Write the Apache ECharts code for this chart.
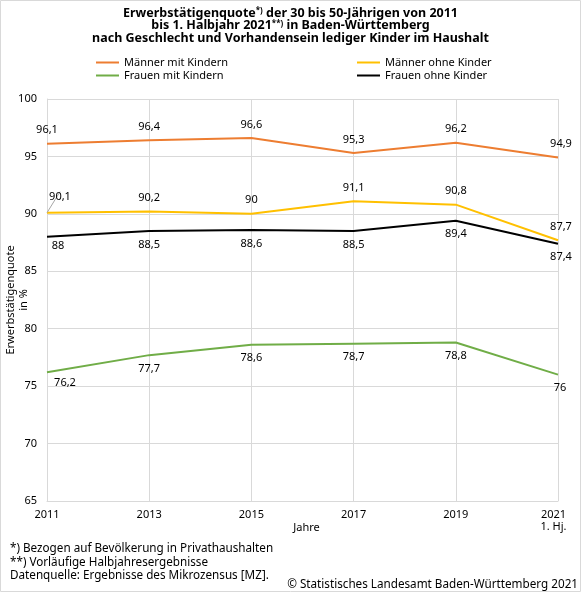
<!DOCTYPE html>
<html><head><meta charset="utf-8">
<script src="https://cdn.jsdelivr.net/npm/echarts@6/dist/echarts.min.js"></script>
<style>html,body{margin:0;padding:0;background:#fff}#c{width:581px;height:592px}</style>
</head><body><div id="c"></div>
<script>
var categories = ['2011', '2013', '2015', '2017', '2019', '2021\n1. Hj.'];
var maennerMitKindern = [96.1, 96.4, 96.6, 95.3, 96.2, 94.9];
var maennerOhneKinder = [90.1, 90.2, 90, 91.1, 90.8, 87.7];
var frauenMitKindern = [76.2, 77.7, 78.6, 78.7, 78.8, 76];
var frauenOhneKinder = [88, 88.5, 88.6, 88.5, 89.4, 87.4];
var yTicks = {min: 65, max: 100, interval: 5};

var FONT = 'Noto Sans';
var chart = echarts.init(document.getElementById('c'), null, {renderer: 'canvas'});
function fmt(p) { return String(p.value).replace('.', ','); }
function mkSeries(name, data, color, pos, firstOff, lastOff, leader) {
  var items = data.map(function (v, i) {
    if (i === 0 && leader) return {value: v, labelLine: {show: true, lineStyle: {color: '#a6a6a6', width: 1}}};
    return v;
  });
  return {
    name: name, type: 'line', data: items, symbol: 'circle', symbolSize: 0, showSymbol: true,
    lineStyle: {color: color, width: 2}, itemStyle: {color: color},
    label: {show: true, position: pos, distance: 8, formatter: fmt,
      fontFamily: FONT, fontSize: 11, color: '#000'},
    labelLine: {show: false},
    labelLayout: function (p) {
      if (p.dataIndex === 0) return {dx: firstOff[0], dy: firstOff[1]};
      if (p.dataIndex === data.length - 1) return {dx: lastOff[0], dy: lastOff[1]};
      return {};
    },
    emphasis: {disabled: true}, animation: false
  };
}
function leg(name, color, left, top) {
  return {data: [name], left: left, top: top, padding: 0, itemWidth: 23, itemHeight: 2,
    icon: 'rect', itemStyle: {color: color},
    textStyle: {fontFamily: FONT, fontSize: 11, color: '#000'}, selectedMode: false};
}
var catData = categories.map(function (c, i) {
  return i === categories.length - 1 ? {value: c, textStyle: {padding: [0, 9, 0, 0]}} : c;
});
chart.setOption({
  animation: false,
  title: {
    text: 'Erwerbstätigenquote{s|*)} der 30 bis 50-Jährigen von 2011\nbis 1. Halbjahr 2021{s|**)} in Baden-Württemberg\nnach Geschlecht und Vorhandensein lediger Kinder im Haushalt',
    left: 'center', top: 2,
    textStyle: {fontFamily: FONT, fontSize: 12.5, fontWeight: 'bold', color: '#000', lineHeight: 12.5,
      rich: {s: {fontFamily: FONT, fontSize: 8, fontWeight: 'bold', color: '#000', padding: [0, 0, 5, 0]}}}
  },
  legend: [
    leg('Männer mit Kindern', '#ED7D31', 96, 57),
    leg('Männer ohne Kinder', '#FFC000', 357, 57),
    leg('Frauen mit Kindern', '#70AD47', 96, 70),
    leg('Frauen ohne Kinder', '#000000', 357, 70)
  ],
  grid: {left: 47, right: 23, top: 99, bottom: 91, containLabel: false, outerBoundsMode: 'none'},
  xAxis: {
    type: 'category', data: catData, boundaryGap: false,
    name: 'Jahre', nameLocation: 'middle', nameGap: 21, nameMoveOverlap: false,
    nameTextStyle: {fontFamily: FONT, fontSize: 11, color: '#000', padding: [0, 0, 0, 8]},
    axisLine: {show: true, lineStyle: {color: '#d9d9d9', width: 1}},
    axisTick: {show: false},
    axisLabel: {fontFamily: FONT, fontSize: 11, color: '#000', margin: 8, lineHeight: 12, interval: 0},
    splitLine: {show: true, lineStyle: {color: '#d9d9d9', width: 1}}
  },
  yAxis: {
    type: 'value', min: yTicks.min, max: yTicks.max, interval: yTicks.interval,
    name: 'Erwerbstätigenquote\nin %', nameLocation: 'middle', nameGap: 17, nameRotate: 90, nameMoveOverlap: false,
    nameTextStyle: {fontFamily: FONT, fontSize: 11, color: '#000', lineHeight: 13},
    axisLine: {show: true, lineStyle: {color: '#d9d9d9', width: 1}},
    axisTick: {show: false},
    axisLabel: {fontFamily: FONT, fontSize: 11, color: '#000', margin: 10},
    splitLine: {show: true, lineStyle: {color: '#d9d9d9', width: 1}}
  },
  series: [
    mkSeries('Männer mit Kindern', maennerMitKindern, '#ED7D31', 'top', [0, 0], [3, 0], false),
    mkSeries('Frauen mit Kindern', frauenMitKindern, '#70AD47', 'bottom', [18, -3], [2, 0], false),
    mkSeries('Frauen ohne Kinder', frauenOhneKinder, '#000000', 'bottom', [11, -4], [3, 0], false),
    mkSeries('Männer ohne Kinder', maennerOhneKinder, '#FFC000', 'top', [13, -2], [3, 0], true)
  ],
  graphic: [
    {type: 'rect', shape: {x: 0.5, y: 0.5, width: 580, height: 591}, style: {fill: null, stroke: '#d9d9d9', lineWidth: 1}, silent: true},
    {type: 'text', left: 10, top: 543, style: {text: '*) Bezogen auf Bevölkerung in Privathaushalten', font: '11.7px "Noto Sans"', fill: '#000'}},
    {type: 'text', left: 10, top: 557, style: {text: '**) Vorläufige Halbjahresergebnisse', font: '11.7px "Noto Sans"', fill: '#000'}},
    {type: 'text', left: 10, top: 570, style: {text: 'Datenquelle: Ergebnisse des Mikrozensus [MZ].', font: '11.7px "Noto Sans"', fill: '#000'}},
    {type: 'text', right: 3, top: 579, style: {text: '© Statistisches Landesamt Baden-Württemberg 2021', font: '11.7px "Noto Sans"', fill: '#000'}}
  ]
});
</script></body></html>
